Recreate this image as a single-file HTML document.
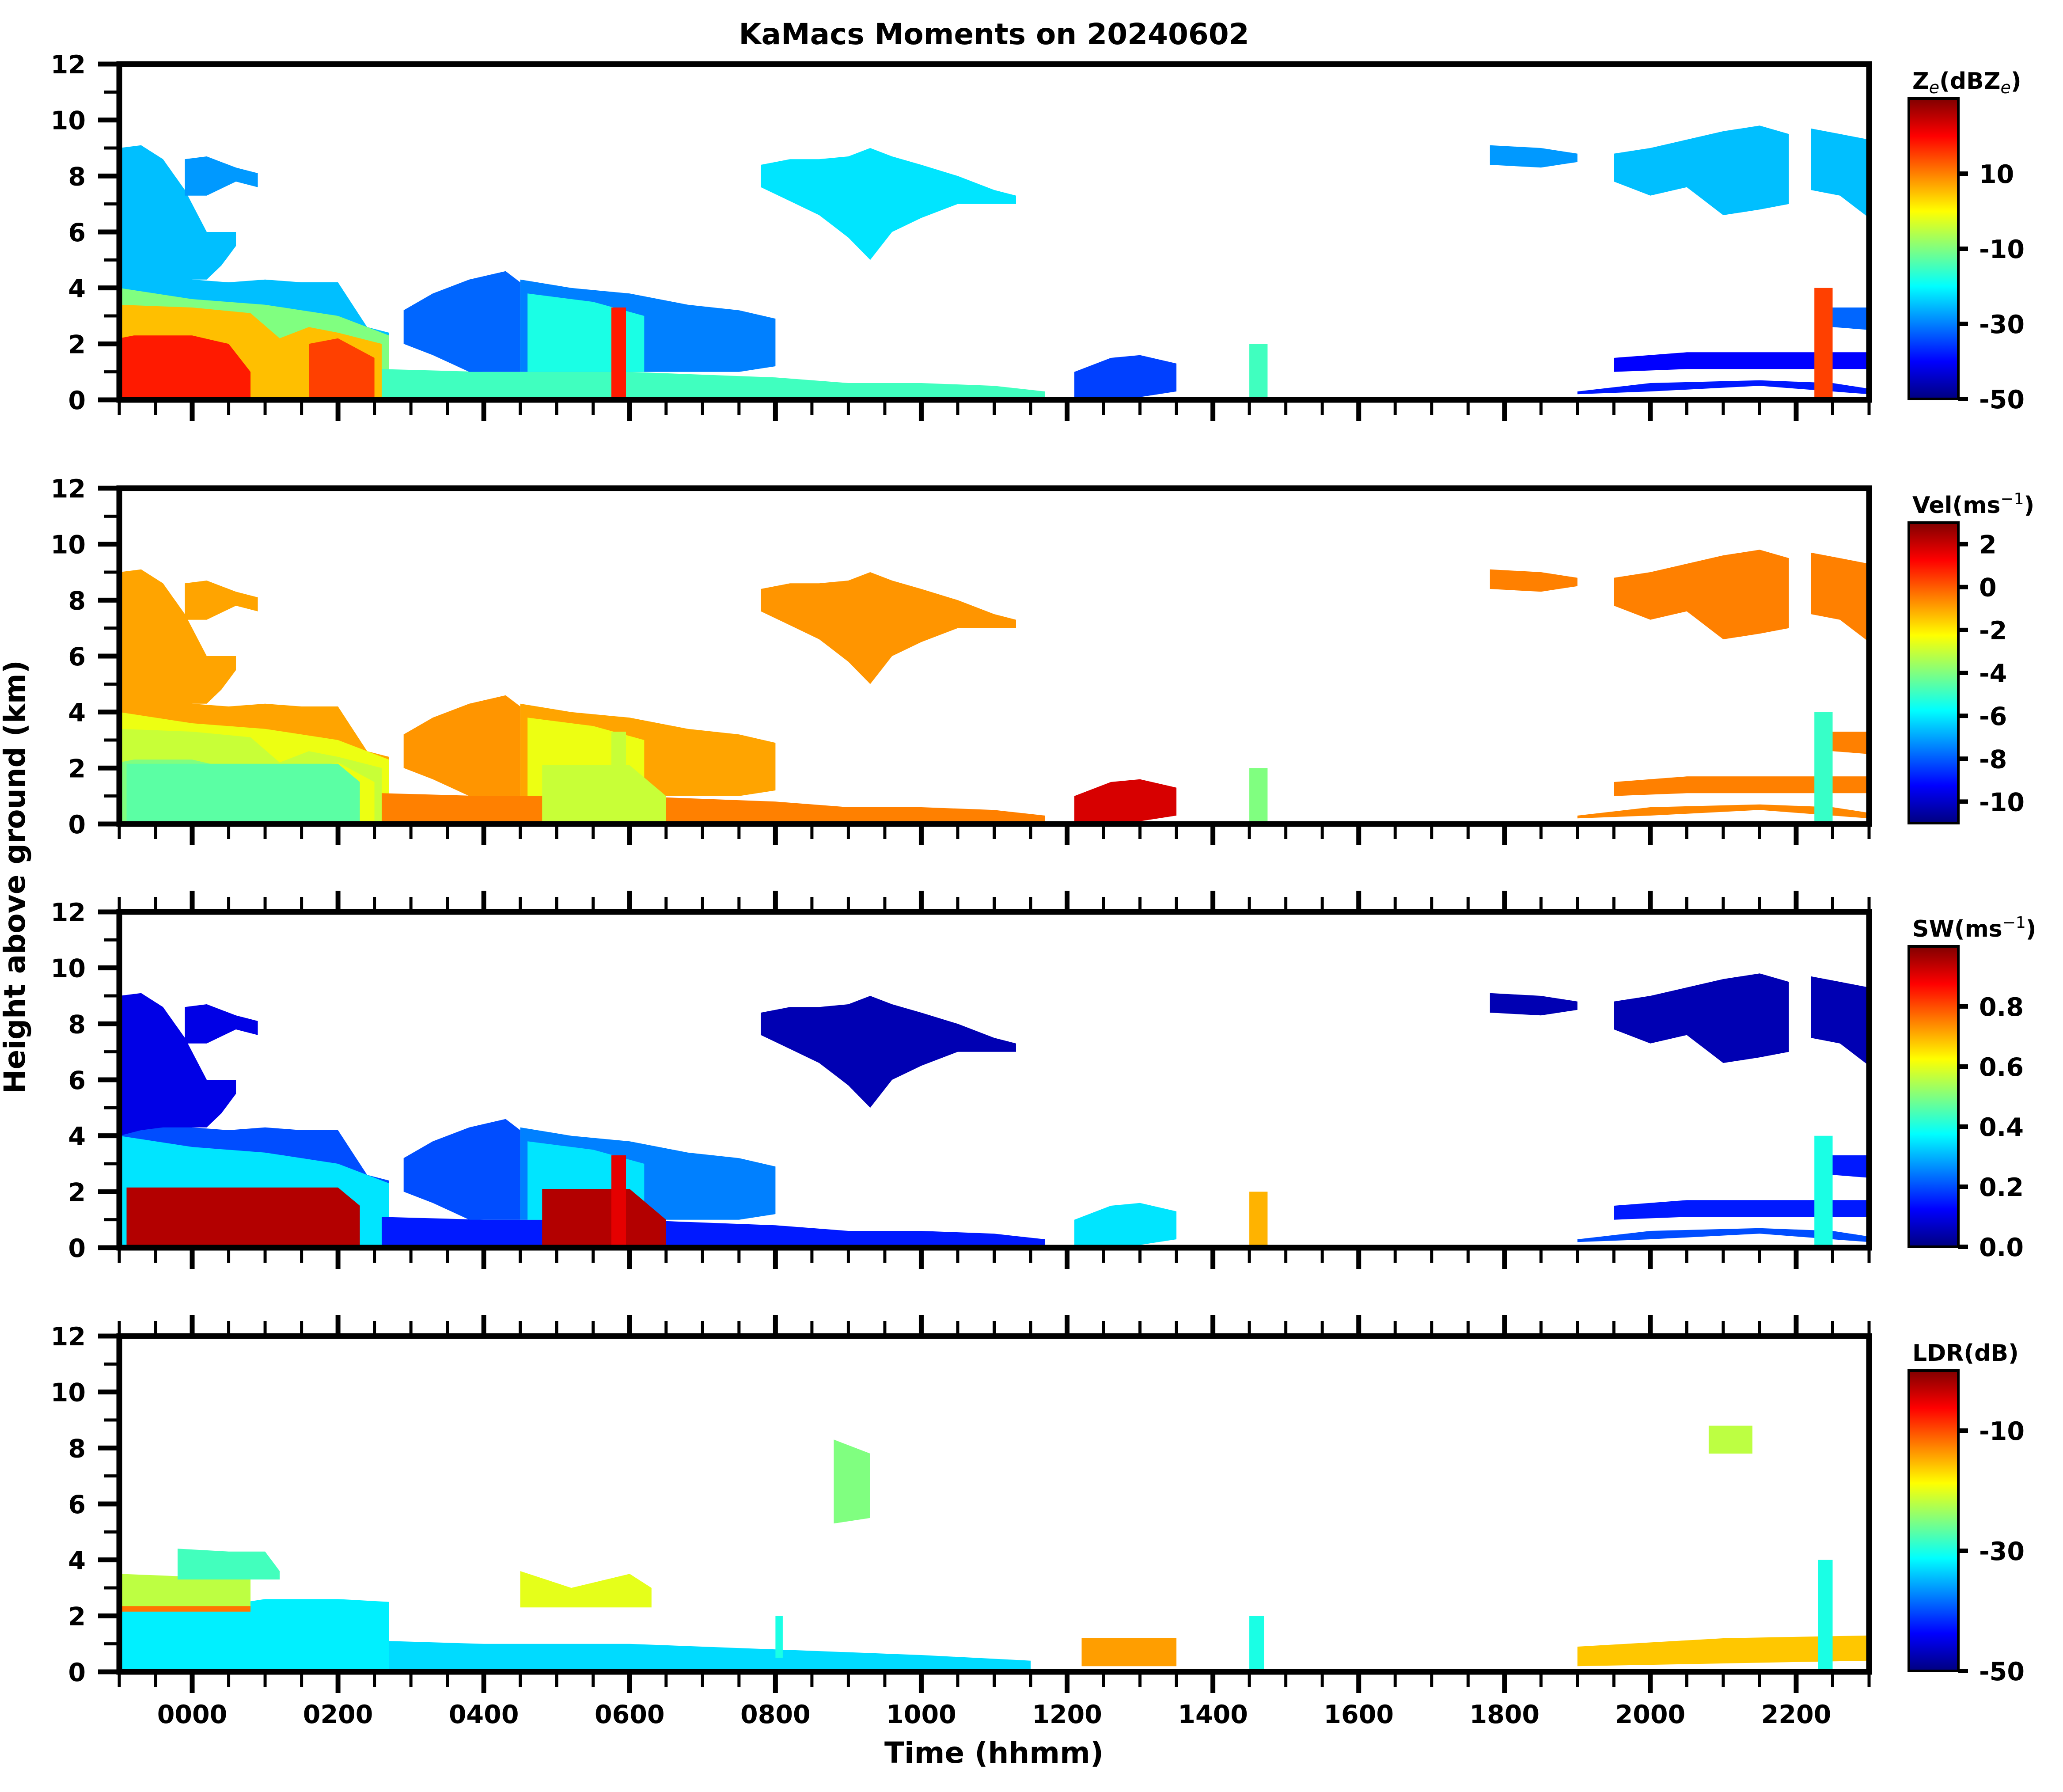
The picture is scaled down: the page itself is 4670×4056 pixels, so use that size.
<!DOCTYPE html>
<html><head><meta charset="utf-8">
<style>
html,body{margin:0;padding:0;background:#fff;}
svg{display:block;font-family:"DejaVu Sans","Liberation Sans",sans-serif;font-weight:bold;}
</style></head>
<body>
<svg id="fig" width="4670" height="4056" viewBox="0 0 4670 4056" xmlns="http://www.w3.org/2000/svg">
<defs id="defs"></defs>
<rect width="4670" height="4056" fill="#fff"/>
<text x="2250" y="100" font-size="66" text-anchor="middle">KaMacs Moments on 20240602</text>
<text x="0" y="0" font-size="66" text-anchor="middle" transform="translate(56,1985) rotate(-90)">Height above ground (km)</text>
<text x="2250" y="3990" font-size="66" text-anchor="middle">Time (hhmm)</text>
<g id="panels"></g>
</svg>
<script>
// ---- data ----
const timeDomain = [-1, 23];
const heightDomain = [0, 12];
const xTickHours = [0, 2, 4, 6, 8, 10, 12, 14, 16, 18, 20, 22];
const xTickLabels = ["0000","0200","0400","0600","0800","1000","1200","1400","1600","1800","2000","2200"];
const yTickValues = [0, 2, 4, 6, 8, 10, 12];
const fieldNames = ["ze", "vel", "sw", "ldr"];
const fieldRanges = [[-50, 30], [-11, 3], [0, 1], [-50, 0]];
const cbarTicksZe = [10, -10, -30, -50];
const cbarTicksVel = [2, 0, -2, -4, -6, -8, -10];
const cbarTicksSw = [0.8, 0.6, 0.4, 0.2, 0.0];
const cbarTicksLdr = [-10, -30, -50];
const cbarTickText = [["10","-10","-30","-50"],["2","0","-2","-4","-6","-8","-10"],["0.8","0.6","0.4","0.2","0.0"],["-10","-30","-50"]];

// echo regions: times (h), base heights (km), top heights (km)
const regionTimes = [
 [-1,-0.5,0,0.5,1,1.5,2,2.2,2.4,2.7],
 [-1,-0.7,-0.4,-0.1,0.2,0.4,0.6],
 [-0.1,0.2,0.6,0.9],
 [-1,0,1,2,2.4,2.7],
 [-1,0,0.8,1.2,1.6,2.0,2.6],
 [-1,-0.8,0,0.5,0.8],
 [1.6,2.0,2.5],
 [-0.9,0.2,0.9,1.3,2.0,2.3],
 [2.6,4,6,8,9,10,11,11.7],
 [2.9,3.3,3.8,4.3,4.5],
 [4.5,5.2,6.0,6.8,7.5,8.0],
 [4.6,5.5,6.2],
 [4.8,5.5,6.0,6.5],
 [5.75,5.95],
 [7.8,8.2,8.6,9.0,9.3,9.6,10.0,10.5,11.0,11.3],
 [12.1,12.6,13.0,13.5],
 [14.5,14.75],
 [17.8,18.5,19.0],
 [19.5,20.0,20.5,21.0,21.5,21.9],
 [22.2,22.6,23.0],
 [19.0,20.0,21.5,22.5,23.0],
 [19.5,20.5,21.5,22.5,23.0],
 [22.5,23.0],
 [22.25,22.5],
 // LDR-only regions
 [-1,0,1,2,2.7],
 [-1,0,0.8],
 [-0.2,0.5,1.0,1.2],
 [-1,0.8],
 [2.7,4,6,8,10,11.5],
 [4.5,5.2,6.0,6.3],
 [8.8,9.3],
 [12.2,13.5],
 [19,21,23],
 [20.8,21.4],
 [22.3,22.5],
 [8.0,8.1],
 [14.5,14.7]
];
const regionBases = [
 [0,0,0,0,0,0,0,0,0,0],
 [4.0,4.2,4.3,4.3,4.3,4.8,5.5],
 [7.3,7.3,7.8,7.6],
 [0,0,0,0,0,0],
 [0,0,0,0,0,0,0],
 [0,0,0,0,0],
 [0,0,0],
 [0,0,0,0,0,0],
 [0,0,0,0,0,0,0,0],
 [2.0,1.6,1.0,1.0,1.0],
 [1.0,1.0,1.0,1.0,1.0,1.2],
 [1,1,1],
 [0,0,0,0],
 [0,0],
 [7.6,7.1,6.6,5.8,5.0,6.0,6.5,7.0,7.0,7.0],
 [0.1,0,0.1,0.3],
 [0,0],
 [8.4,8.3,8.5],
 [7.8,7.3,7.6,6.6,6.8,7.0],
 [7.5,7.3,6.5],
 [0.2,0.3,0.5,0.3,0.2],
 [1.0,1.1,1.1,1.1,1.1],
 [2.6,2.5],
 [0,0],
 [0,0,0,0,0],
 [2.25,2.25,2.25],
 [3.3,3.3,3.3,3.3],
 [2.15,2.15],
 [0,0,0,0,0,0],
 [2.3,2.3,2.3,2.3],
 [5.3,5.5],
 [0.2,0.2],
 [0.2,0.3,0.4],
 [7.8,7.8],
 [0,0],
 [0.5,0.5],
 [0,0]
];
const regionTops = [
 [5.2,4.6,4.3,4.2,4.3,4.2,4.2,3.4,2.6,2.4],
 [9.0,9.1,8.6,7.5,6.0,6.0,6.0],
 [8.6,8.7,8.3,8.1],
 [4.0,3.6,3.4,3.0,2.6,2.3],
 [3.4,3.3,3.1,2.2,2.6,2.4,2.0],
 [2.2,2.3,2.3,2.0,1.0],
 [2.0,2.2,1.5],
 [2.15,2.15,2.15,2.15,2.15,1.5],
 [1.1,1.0,1.0,0.8,0.6,0.6,0.5,0.3],
 [3.2,3.8,4.3,4.6,4.2],
 [4.3,4.0,3.8,3.4,3.2,2.9],
 [3.8,3.5,3.0],
 [2.1,2.1,2.1,1.0],
 [3.3,3.3],
 [8.4,8.6,8.6,8.7,9.0,8.7,8.4,8.0,7.5,7.3],
 [1.0,1.5,1.6,1.3],
 [2.0,2.0],
 [9.1,9.0,8.8],
 [8.8,9.0,9.3,9.6,9.8,9.5],
 [9.7,9.5,9.3],
 [0.3,0.6,0.7,0.6,0.4],
 [1.5,1.7,1.7,1.7,1.7],
 [3.3,3.3],
 [4.0,4.0],
 [2.2,2.2,2.6,2.6,2.5],
 [3.5,3.4,3.4],
 [4.4,4.3,4.3,3.6],
 [2.35,2.35],
 [1.1,1.0,1.0,0.8,0.6,0.4],
 [3.6,3.0,3.5,3.0],
 [8.3,7.8],
 [1.2,1.2],
 [0.9,1.2,1.3],
 [8.8,8.8],
 [4.0,4.0],
 [2.0,2.0],
 [2.0,2.0]
];
const N = null;
const zeValues  = [-25,-25,-28,-10, 5, 18, 15,  N,-15,-32,-30,-18,  N, 18,-22,-35,-15,-28,-25,-25,-38,-40,-32, 15, N,N,N,N,N,N,N,N,N,N,N,N,N];
const velValues = [ -1, -1, -1,-2.5,-3,-4,-2.5,-4.5,-0.5,-0.8,-1,-2.5,-3, -3,-0.8,1.8, -4,-0.5,-0.5,-0.5,-0.6,-0.5,-0.5,-5, N,N,N,N,N,N,N,N,N,N,N,N,N];
const swValues  = [0.2,0.1,0.1,0.35, N, N, N,0.95,0.15,0.2,0.25,0.35,0.95,0.9,0.05,0.35,0.7,0.05,0.05,0.05,0.2,0.15,0.15,0.4, N,N,N,N,N,N,N,N,N,N,N,N,N];
const ldrValues = [N,N,N,N,N,N,N,N,N,N,N,N,N,N,N,N,N,N,N,N,N,N,N,N, -32,-22,-28,-12,-33,-20,-25,-14,-16,-22,-30,-30,-30];
const fieldValues = [zeValues, velValues, swValues, ldrValues];

// ---- layout ----
const X0 = 270, X1 = 4231;
const panelTops = [145, 1105, 2064, 3024];
const PH = 760;
const ns = "http://www.w3.org/2000/svg";
function mk(tag, attrs, parent){ const e=document.createElementNS(ns,tag); for(const k in attrs) e.setAttribute(k,attrs[k]); if(parent) parent.appendChild(e); return e; }
function xScale(t){ return X0 + (t - timeDomain[0]) / (timeDomain[1]-timeDomain[0]) * (X1-X0); }
function yScale(h, p){ return panelTops[p] + (heightDomain[1]-h)/(heightDomain[1]-heightDomain[0]) * PH; }
function jet(v){
  v=Math.max(0,Math.min(1,v));
  const r=Math.max(0,Math.min(1,Math.min(4*v-1.5,-4*v+4.5)));
  const g=Math.max(0,Math.min(1,Math.min(4*v-0.5,-4*v+3.5)));
  const b=Math.max(0,Math.min(1,Math.min(4*v+0.5,-4*v+2.5)));
  return "rgb("+Math.round(r*255)+","+Math.round(g*255)+","+Math.round(b*255)+")";
}
const defs = document.getElementById("defs");
const grad = mk("linearGradient",{id:"jetgrad",x1:"0",y1:"1",x2:"0",y2:"0"},defs);
for(let i=0;i<=16;i++){ mk("stop",{offset:(i/16).toFixed(4),"stop-color":jet(i/16)},grad); }
const root = document.getElementById("panels");
const cbarTickSets = [cbarTicksZe, cbarTicksVel, cbarTicksSw, cbarTicksLdr];
const cbarLabels = [
  '<tspan>Z</tspan><tspan font-size="38" dy="10" font-style="italic" font-weight="normal">e</tspan><tspan dy="-10">(dBZ</tspan><tspan font-size="38" dy="10" font-style="italic" font-weight="normal">e</tspan><tspan dy="-10">)</tspan>',
  '<tspan>Vel(ms</tspan><tspan font-size="36" dy="-20" font-weight="normal">−1</tspan><tspan dy="20">)</tspan>',
  '<tspan>SW(ms</tspan><tspan font-size="36" dy="-20" font-weight="normal">−1</tspan><tspan dy="20">)</tspan>',
  '<tspan>LDR(dB)</tspan>'
];

for(let p=0;p<4;p++){
  const top=panelTops[p], bot=top+PH;
  const g = mk("g",{},root);
  
  
  const cp = mk("clipPath",{id:"clip"+p},defs);
  mk("rect",{x:X0,y:top,width:X1-X0,height:PH},cp);
  const dg = mk("g",{"clip-path":"url(#clip"+p+")"},g);
  
  
  const vals = fieldValues[p], rng = fieldRanges[p];
  for(let r=0;r<regionTimes.length;r++){
    const v = vals[r]; if(v===null) continue;
    const ts=regionTimes[r], bs=regionBases[r], tp=regionTops[r];
    const pts=[];
    for(let i=0;i<ts.length;i++) pts.push(xScale(ts[i]).toFixed(1)+","+yScale(tp[i],p).toFixed(1));
    for(let i=ts.length-1;i>=0;i--) pts.push(xScale(ts[i]).toFixed(1)+","+yScale(bs[i],p).toFixed(1));
    const poly = mk("polygon",{points:pts.join(" "),fill:jet((v-rng[0])/(rng[1]-rng[0]))},dg);
    
    
  }
  const fr = mk("rect",{x:X0,y:top,width:X1-X0,height:PH,fill:"none",stroke:"#000","stroke-width":13},g);
  
  
  for(let h=0;h<=12;h++){
    const y=yScale(h,p), major=(h%2===0);
    const tk = mk("line",{x1:X0-(major?42:28)-6,x2:X0,y1:y,y2:y,stroke:"#000","stroke-width":major?11:7},g);
    
    
  }
  for(const h of yTickValues){
    const t = mk("text",{x:194,y:yScale(h,p)+21,"font-size":57,"text-anchor":"end"},g);
    t.textContent=String(h);
    
    
  }
  for(let k=0;k<=48;k++){
    const t=timeDomain[0]+k*0.5, x=xScale(t);
    const major = (Math.abs(t%2)<1e-9) && t>=0;
    const len = major?42:28;
    const tk = mk("line",{x1:x,x2:x,y1:bot+6,y2:bot+6+len,stroke:"#000","stroke-width":major?11:7},g);
    
    
    if(p>=2){
      const tt = mk("line",{x1:x,x2:x,y1:top-6-len,y2:top-6,stroke:"#000","stroke-width":major?11:7},g);
      
      
    }
  }
  if(p===3){
    for(let i=0;i<xTickHours.length;i++){
      const t = mk("text",{x:xScale(xTickHours[i]),y:3900,"font-size":57,"text-anchor":"middle"},g);
      t.textContent=xTickLabels[i];
      
      
    }
  }
  const cx0=4321, cx1=4433, cy0=top+78, cy1=bot-2;
  const cb = mk("rect",{x:cx0,y:cy0,width:cx1-cx0,height:cy1-cy0,fill:"url(#jetgrad)",stroke:"#000","stroke-width":6},g);
  
  
  const lab = mk("text",{x:4329,y:cy0-22,"font-size":52},g);
  lab.innerHTML = cbarLabels[p];
  
  
  const ticks = cbarTickSets[p];
  for(let i=0;i<ticks.length;i++){
    const y = cy1 - (ticks[i]-rng[0])/(rng[1]-rng[0])*(cy1-cy0);
    const tk = mk("line",{x1:cx1,x2:cx1+22,y1:y,y2:y,stroke:"#000","stroke-width":10},g);
    
    
    const tl = mk("text",{x:4480,y:y+21,"font-size":57},g);
    tl.textContent = cbarTickText[p][i];
    
    
  }
}
</script>
</body></html>
